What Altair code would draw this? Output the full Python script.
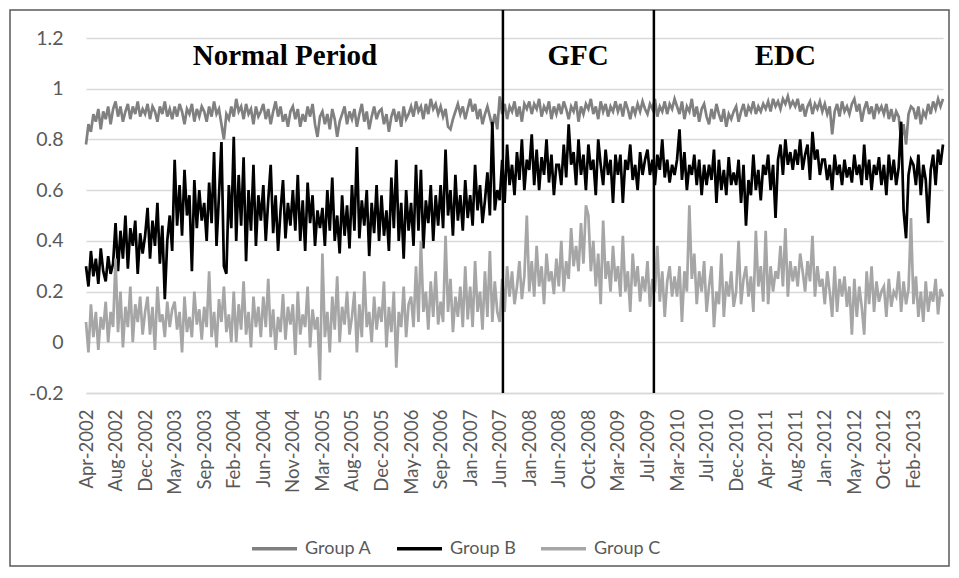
import altair as alt
import pandas as pd

tick_labels = ["Apr-2002", "Aug-2002", "Dec-2002", "May-2003", "Sep-2003", "Feb-2004",
               "Jun-2004", "Nov-2004", "Mar-2005", "Aug-2005", "Dec-2005", "May-2006",
               "Sep-2006", "Jan-2007", "Jun-2007", "Jan-2008", "Jun-2008", "Oct-2008",
               "Mar-2009", "Jul-2009", "Mar-2010", "Jul-2010", "Dec-2010", "Apr-2011",
               "Aug-2011", "Jan-2012", "May-2012", "Oct-2012", "Feb-2013"]
STEP = 12  # observations per tick-label interval

group_a = [
    0.78, 0.86, 0.83, 0.90, 0.87, 0.92, 0.84, 0.91, 0.88, 0.93, 0.86, 0.92,
    0.95, 0.89, 0.93, 0.87, 0.91, 0.94, 0.88, 0.93, 0.90, 0.95, 0.89, 0.92,
    0.90, 0.94, 0.88, 0.93, 0.91, 0.87, 0.93, 0.90, 0.95, 0.89, 0.92, 0.88,
    0.93, 0.89, 0.94, 0.91, 0.86, 0.92, 0.90, 0.94, 0.87, 0.92, 0.89, 0.93,
    0.91, 0.87, 0.93, 0.89, 0.95, 0.90, 0.92, 0.86, 0.80, 0.90, 0.88, 0.93,
    0.89, 0.96, 0.91, 0.93, 0.88, 0.94, 0.90, 0.92, 0.86, 0.93, 0.89, 0.91,
    0.94, 0.88, 0.92, 0.86, 0.91, 0.95, 0.89, 0.93, 0.87, 0.90, 0.85, 0.91,
    0.93, 0.88, 0.92, 0.85, 0.90, 0.87, 0.93, 0.89, 0.94, 0.86, 0.81, 0.89,
    0.91, 0.86, 0.90, 0.84, 0.92, 0.88, 0.81, 0.87, 0.90, 0.93, 0.86, 0.91,
    0.88, 0.92, 0.85, 0.90, 0.94, 0.87, 0.91, 0.84, 0.89, 0.93, 0.88, 0.91,
    0.92, 0.86, 0.90, 0.83, 0.89, 0.92, 0.87, 0.91, 0.85, 0.93, 0.88, 0.90,
    0.93, 0.89, 0.95, 0.91, 0.93, 0.88, 0.94, 0.90, 0.96, 0.92, 0.94, 0.90,
    0.93, 0.89, 0.92, 0.85, 0.84, 0.88, 0.91, 0.94, 0.90, 0.93, 0.88, 0.92,
    0.96, 0.91, 0.94, 0.88, 0.92, 0.86, 0.90, 0.93, 0.89, 0.85, 0.90, 0.84,
    0.97, 0.90, 0.94, 0.88, 0.93, 0.91, 0.95, 0.89, 0.93, 0.87, 0.94, 0.92,
    0.95, 0.90, 0.94, 0.92, 0.96, 0.89, 0.93, 0.91, 0.95, 0.88, 0.93, 0.90,
    0.94, 0.90, 0.95, 0.92, 0.88, 0.93, 0.91, 0.95, 0.87, 0.93, 0.90, 0.94,
    0.92, 0.96, 0.90, 0.93, 0.88, 0.95, 0.91, 0.94, 0.89, 0.93, 0.91, 0.95,
    0.91, 0.94, 0.89, 0.95, 0.92, 0.88, 0.93, 0.90, 0.94, 0.91, 0.95, 0.92,
    0.90, 0.94, 0.92, 0.96, 0.89, 0.93, 0.91, 0.95, 0.90, 0.94, 0.92, 0.96,
    0.93, 0.90, 0.95, 0.88, 0.93, 0.91, 0.96, 0.89, 0.93, 0.87, 0.92, 0.94,
    0.89, 0.86, 0.92, 0.88, 0.94, 0.90, 0.87, 0.92, 0.85, 0.90, 0.88, 0.91,
    0.93, 0.87, 0.91, 0.94, 0.89, 0.93, 0.91, 0.95, 0.90, 0.93, 0.91, 0.94,
    0.92, 0.95, 0.91, 0.96, 0.93, 0.95, 0.92, 0.96, 0.94, 0.97, 0.93, 0.95,
    0.93, 0.96, 0.91, 0.94, 0.89, 0.93, 0.95, 0.90, 0.94, 0.92, 0.95, 0.91,
    0.94, 0.90, 0.93, 0.82, 0.91, 0.94, 0.89, 0.95, 0.91, 0.93, 0.90, 0.94,
    0.96, 0.91, 0.94, 0.87, 0.92, 0.95, 0.90, 0.93, 0.88, 0.94, 0.91, 0.93,
    0.90, 0.94, 0.88, 0.92, 0.87, 0.91, 0.89, 0.80, 0.86, 0.78, 0.90, 0.93,
    0.92, 0.88, 0.93, 0.86, 0.91, 0.89, 0.94, 0.90, 0.95, 0.92, 0.96, 0.93,
    0.96,
]

group_b = [
    0.30, 0.22, 0.36, 0.26, 0.33, 0.23, 0.37, 0.28, 0.24, 0.34, 0.27, 0.31,
    0.47, 0.28, 0.44, 0.33, 0.50, 0.29, 0.45, 0.38, 0.48, 0.27, 0.43, 0.35,
    0.42, 0.53, 0.33, 0.48, 0.38, 0.55, 0.31, 0.46, 0.17, 0.40, 0.50, 0.36,
    0.72, 0.46, 0.62, 0.42, 0.68, 0.50, 0.58, 0.28, 0.64, 0.45, 0.60, 0.48,
    0.55, 0.40, 0.63, 0.47, 0.75, 0.38, 0.58, 0.79, 0.30, 0.27, 0.62, 0.45,
    0.81, 0.40, 0.66, 0.46, 0.73, 0.32, 0.60, 0.44, 0.70, 0.38, 0.58, 0.48,
    0.62, 0.40, 0.56, 0.70, 0.43, 0.58, 0.36, 0.52, 0.64, 0.41, 0.55, 0.46,
    0.60, 0.44, 0.66, 0.40, 0.56, 0.36, 0.63, 0.47, 0.58, 0.38, 0.52, 0.45,
    0.53, 0.38, 0.60, 0.44, 0.65, 0.40, 0.50, 0.35, 0.58, 0.42, 0.54, 0.37,
    0.62, 0.44, 0.77, 0.41, 0.56, 0.46, 0.60, 0.34, 0.55, 0.43, 0.62, 0.40,
    0.58, 0.42, 0.52, 0.36, 0.65, 0.45, 0.72, 0.40, 0.55, 0.33, 0.60, 0.44,
    0.55, 0.38, 0.70, 0.44, 0.68, 0.37, 0.56, 0.47, 0.62, 0.40, 0.58, 0.46,
    0.62, 0.45, 0.76, 0.50, 0.60, 0.42, 0.66, 0.48, 0.58, 0.44, 0.64, 0.49,
    0.58, 0.46, 0.70, 0.52, 0.62, 0.47, 0.56, 0.67, 0.50, 0.87, 0.52, 0.60,
    0.56, 0.72, 0.55, 0.78, 0.62, 0.70, 0.58, 0.75, 0.64, 0.80, 0.60, 0.72,
    0.68, 0.82, 0.62, 0.76, 0.60, 0.73, 0.66, 0.80, 0.63, 0.74, 0.58, 0.70,
    0.70, 0.62, 0.78, 0.65, 0.86, 0.70, 0.75, 0.62, 0.80, 0.66, 0.74, 0.60,
    0.78, 0.68, 0.72, 0.58, 0.80, 0.70, 0.62, 0.76, 0.66, 0.72, 0.55, 0.74,
    0.66, 0.74, 0.55, 0.72, 0.68, 0.78, 0.64, 0.70, 0.60, 0.75, 0.66, 0.72,
    0.76, 0.66, 0.72, 0.62, 0.74, 0.68, 0.80, 0.65, 0.72, 0.63, 0.70, 0.66,
    0.72, 0.84, 0.64, 0.75, 0.60, 0.70, 0.66, 0.74, 0.62, 0.72, 0.58, 0.70,
    0.62, 0.70, 0.64, 0.76, 0.55, 0.72, 0.60, 0.68, 0.58, 0.73, 0.62, 0.67,
    0.62, 0.72, 0.55, 0.70, 0.46, 0.64, 0.58, 0.74, 0.60, 0.68, 0.56, 0.70,
    0.66, 0.74, 0.60, 0.70, 0.49, 0.72, 0.78, 0.66, 0.80, 0.70, 0.75, 0.68,
    0.76, 0.70, 0.80, 0.68, 0.74, 0.78, 0.64, 0.83, 0.72, 0.76, 0.66, 0.72,
    0.72, 0.64, 0.70, 0.60, 0.74, 0.66, 0.70, 0.62, 0.72, 0.65, 0.69, 0.63,
    0.74, 0.66, 0.70, 0.62, 0.78, 0.64, 0.72, 0.60, 0.70, 0.66, 0.73, 0.62,
    0.70, 0.58, 0.74, 0.64, 0.72, 0.62, 0.69, 0.87, 0.52, 0.41, 0.66, 0.72,
    0.70, 0.62, 0.74, 0.58, 0.70, 0.64, 0.47, 0.68, 0.74, 0.62, 0.76, 0.70,
    0.78,
]

group_c = [
    0.08, -0.04, 0.15, 0.02, 0.12, -0.03, 0.10, 0.05, 0.16, 0.00, 0.12, 0.06,
    0.33, 0.04, 0.20, -0.02, 0.14, 0.06, 0.22, 0.00, 0.15, 0.08, 0.18, 0.03,
    0.12, 0.18, 0.03, 0.14, -0.03, 0.22, 0.08, 0.11, 0.02, 0.16, 0.06, 0.13,
    0.16, 0.05, 0.12, -0.04, 0.18, 0.04, 0.10, 0.02, 0.20, 0.07, 0.13, 0.01,
    0.14, 0.06, 0.28, 0.02, 0.12, -0.02, 0.17, 0.08, 0.22, 0.04, 0.11, 0.00,
    0.20, 0.00, 0.15, 0.05, 0.24, 0.03, 0.12, -0.02, 0.18, 0.06, 0.14, 0.02,
    0.18, 0.06, 0.25, 0.02, 0.13, -0.03, 0.10, 0.04, 0.19, 0.01, 0.14, 0.07,
    0.15, -0.05, 0.20, 0.03, 0.11, 0.06, 0.22, -0.02, 0.13, 0.05, 0.10, -0.15,
    0.35, 0.02, 0.12, -0.04, 0.18, 0.05, 0.26, 0.00, 0.14, 0.07, 0.20, 0.03,
    0.10, 0.20, -0.04, 0.15, 0.02, 0.28, 0.06, 0.12, 0.00, 0.18, 0.05, 0.14,
    0.08, 0.24, -0.02, 0.14, 0.04, 0.20, -0.10, 0.12, 0.06, 0.22, 0.02, 0.15,
    0.18, 0.06, 0.30, 0.08, 0.40, 0.12, 0.20, 0.05, 0.24, 0.10, 0.28, 0.07,
    0.16, 0.08, 0.42, 0.12, 0.25, 0.04, 0.18, 0.10, 0.22, 0.06, 0.30, 0.09,
    0.22, 0.06, 0.32, 0.12, 0.20, 0.05, 0.28, 0.10, 0.36, 0.08, 0.24, 0.12,
    0.08, 0.25, 0.12, 0.30, 0.18, 0.28, 0.15, 0.22, 0.32, 0.17, 0.26, 0.50,
    0.20, 0.32, 0.18, 0.38, 0.22, 0.30, 0.15, 0.35, 0.24, 0.28, 0.19, 0.33,
    0.22, 0.40, 0.20, 0.32, 0.25, 0.45, 0.30, 0.38, 0.28, 0.47, 0.31, 0.54,
    0.50, 0.28, 0.40, 0.22, 0.35, 0.15, 0.48, 0.25, 0.32, 0.20, 0.38, 0.24,
    0.30, 0.18, 0.42, 0.20, 0.28, 0.12, 0.35, 0.22, 0.30, 0.16, 0.26, 0.20,
    0.32, 0.14, 0.25, 0.20, 0.38, 0.16, 0.28, 0.10, 0.24, 0.30, 0.18, 0.26,
    0.18, 0.30, 0.08, 0.28, 0.20, 0.54, 0.25, 0.35, 0.15, 0.28, 0.20, 0.32,
    0.12, 0.22, 0.30, 0.06, 0.20, 0.15, 0.35, 0.10, 0.24, 0.18, 0.28, 0.14,
    0.20, 0.40, 0.15, 0.25, 0.30, 0.18, 0.26, 0.12, 0.44, 0.22, 0.30, 0.16,
    0.44, 0.15, 0.30, 0.20, 0.28, 0.25, 0.38, 0.22, 0.45, 0.18, 0.32, 0.24,
    0.30, 0.22, 0.35, 0.28, 0.20, 0.32, 0.24, 0.42, 0.18, 0.30, 0.22, 0.25,
    0.15, 0.28, 0.20, 0.10, 0.30, 0.12, 0.25, 0.18, 0.26, 0.14, 0.22, 0.03,
    0.25, 0.10, 0.22, 0.14, 0.03, 0.28, 0.15, 0.30, 0.12, 0.24, 0.16, 0.20,
    0.22, 0.10, 0.25, 0.14, 0.20, 0.18, 0.28, 0.12, 0.24, 0.15, 0.21, 0.49,
    0.15, 0.26, 0.10, 0.20, 0.08, 0.24, 0.12, 0.20, 0.16, 0.25, 0.11, 0.21,
    0.18,
]

period_breaks = [169.3, 230.6]
period_names = ["Normal Period", "GFC", "EDC"]
period_label_x = [80.8, 199.8, 284.0]
period_label_y = [1.13, 1.13, 1.13]

group_names = ["Group A", "Group B", "Group C"]
group_colors = ["#808080", "#000000", "#a6a6a6"]

rows = []
for name, vals in zip(group_names, [group_a, group_b, group_c]):
    for i, v in enumerate(vals):
        rows.append({"idx": i, "value": v, "group": name})
df = pd.DataFrame(rows)
n_last = len(tick_labels) * STEP

label_array = "[" + ",".join("'" + t + "'" for t in tick_labels) + "]"

x_scale = alt.Scale(domain=[0, n_last], nice=False, zero=False)
y_scale = alt.Scale(domain=[-0.2, 1.2], nice=False)

x_axis = alt.Axis(values=[i * STEP for i in range(len(tick_labels))],
                  labelExpr=label_array + "[round(datum.value/" + str(STEP) + ")]",
                  labelAngle=-90, grid=False, ticks=False,
                  domainColor="#d9d9d9", domainWidth=1.5,
                  labelFont="Lato", labelFontSize=18.5,
                  labelColor="#595959", labelPadding=16, title=None,
                  labelOverlap=False)
y_axis = alt.Axis(values=[-0.2, 0, 0.2, 0.4, 0.6, 0.8, 1.0, 1.2],
                  labelExpr="toString(round(datum.value*10)/10)",
                  grid=True, gridColor="#d9d9d9", gridWidth=1.5,
                  domain=False, ticks=False,
                  labelFont="Lato", labelFontSize=19.5,
                  labelColor="#595959", labelPadding=23, title=None)

lines = alt.Chart(df).mark_line(strokeWidth=2.7, strokeJoin="miter").encode(
    x=alt.X("idx:Q", scale=x_scale, axis=x_axis),
    y=alt.Y("value:Q", scale=y_scale, axis=y_axis),
    color=alt.Color("group:N", title=None,
                    scale=alt.Scale(domain=group_names, range=group_colors),
                    legend=alt.Legend(orient="none", legendX=164, legendY=486,
                                      direction="horizontal", symbolType="stroke",
                                      symbolSize=2025, symbolStrokeWidth=3.5,
                                      labelFont="Lato", labelFontSize=18,
                                      labelColor="#595959", columnPadding=18,
                                      labelOffset=6)),
    order="idx:Q",
)

breaks_df = pd.DataFrame({"idx": period_breaks})
rules = alt.Chart(breaks_df).mark_rule(color="black", strokeWidth=2.5).encode(
    x=alt.X("idx:Q", scale=x_scale, axis=x_axis), y=alt.value(-28), y2=alt.value(355))

labels_df = pd.DataFrame({"idx": period_label_x, "value": period_label_y, "name": period_names})
texts = alt.Chart(labels_df).mark_text(font="Liberation Serif", fontWeight="bold",
                                       fontSize=29, color="#000000",
                                       baseline="middle", align="center").encode(
    x=alt.X("idx:Q", scale=x_scale, axis=x_axis),
    y=alt.Y("value:Q", scale=y_scale, axis=y_axis),
    text="name:N")

frame = alt.Chart(pd.DataFrame({"k": [0]})).mark_rect(
    fill=None, stroke="#595959", strokeWidth=1.5).encode(
    x=alt.value(-76), x2=alt.value(863), y=alt.value(-28), y2=alt.value(528))

chart = alt.layer(frame, lines, rules, texts).properties(
    width=857, height=355,
    autosize=alt.AutoSizeParams(type="none"),
    padding={"left": 78, "top": 30, "right": 8, "bottom": 175},
).configure_view(stroke=None)

chart.save("out.html", embed_options={"renderer": "svg", "actions": False})
